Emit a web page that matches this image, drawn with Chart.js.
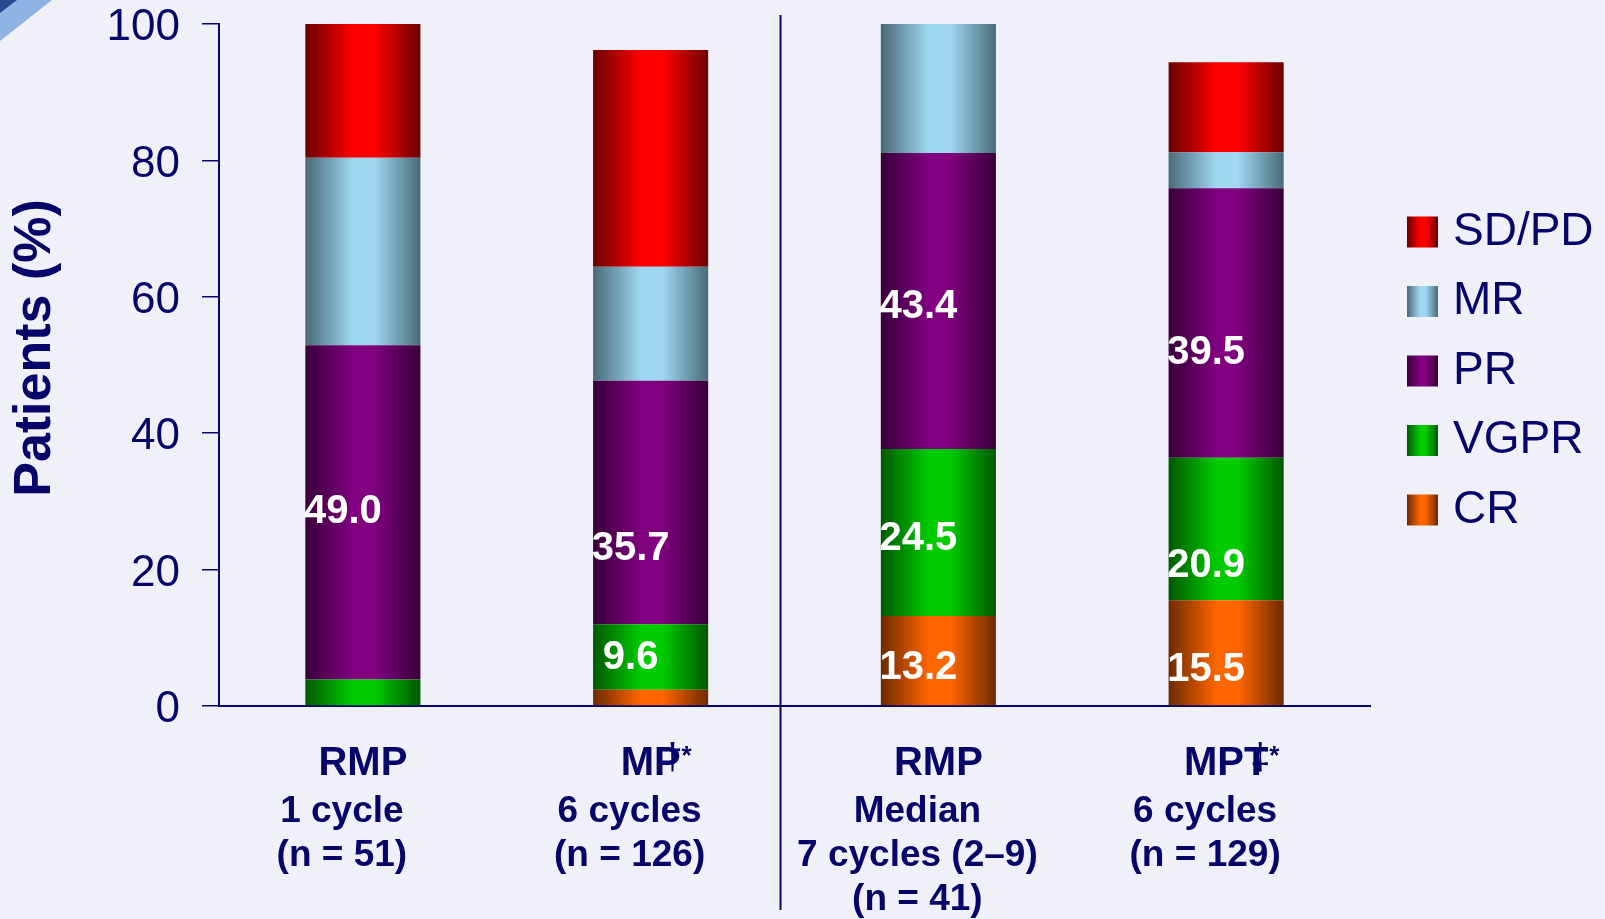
<!DOCTYPE html>
<html>
<head>
<meta charset="utf-8">
<title>Response by regimen</title>
<script src="https://cdn.jsdelivr.net/npm/chart.js@4.4.1/dist/chart.umd.min.js"></script>
<style>
  html, body { margin: 0; padding: 0; background: #f0f1f8; }
  #wrap { width: 1605px; height: 919px; position: relative; }
</style>
</head>
<body>
<div id="wrap"><canvas id="chart" width="1605" height="919"></canvas></div>
<script>
// ---- data ----
const categories = [
  ['RMP', '1 cycle', '(n = 51)'],
  ['MP', '6 cycles', '(n = 126)'],
  ['RMP', 'Median', '7 cycles (2–9)', '(n = 41)'],
  ['MPT', '6 cycles', '(n = 129)']
];
const nameMarks = ['', '†', '', '‡'];
const nameStars = ['', '*', '', '*'];

const responseNames = ['CR', 'VGPR', 'PR', 'MR', 'SD/PD'];
const crValues   = [0,    2.4,  13.2, 15.5];
const vgprValues = [3.9,  9.6,  24.5, 20.9];
const prValues   = [49.0, 35.7, 43.4, 39.5];
const mrValues   = [27.5, 16.7, 18.9, 5.3];
const sdpdValues = [19.6, 31.8, 0,    13.2];
const yTickValues = [0, 20, 40, 60, 80, 100];

// ---- styling ----
const NAVY = '#06066a';
const FONT = '"Liberation Sans", Arial, Helvetica, sans-serif';
const BAR_PCT = 0.4;

const palettes = [
  { dark: '#6e2a00', bright: '#ff6600' },   // CR
  { dark: '#005800', bright: '#00cc00' },   // VGPR
  { dark: '#38003a', bright: '#800080' },   // PR
  { dark: '#4a6a78', bright: '#a0d8f2' },   // MR
  { dark: '#6a0000', bright: '#ff0000' }    // SD/PD
];

// where each printed value sits inside its segment (0 = bottom, 1 = top); null = no label
const labelAnchor = [
  [null, null, 0.42, 0.34],   // CR
  [null, 0.48, 0.46, 0.24],   // VGPR
  [0.50, 0.31, 0.48, 0.39]    // PR
];

const series = [crValues, vgprValues, prValues, mrValues, sdpdValues];

function tubeGradient(ctx, x0, x1, pal) {
  const g = ctx.createLinearGradient(x0, 0, x1, 0);
  g.addColorStop(0, pal.dark);
  g.addColorStop(0.42, pal.bright);
  g.addColorStop(0.6, pal.bright);
  g.addColorStop(1, pal.dark);
  return g;
}

function barFill(pal) {
  return (c) => {
    const chart = c.chart;
    const xs = chart.scales && chart.scales.x;
    if (!xs || c.dataIndex === undefined || !chart.chartArea) return pal.bright;
    const cx = xs.getPixelForValue(c.dataIndex);
    const w = (xs.getPixelForValue(1) - xs.getPixelForValue(0)) * BAR_PCT;
    return tubeGradient(chart.ctx, cx - w / 2, cx + w / 2, pal);
  };
}

// ---- plugins ----
const backdrop = {
  id: 'backdrop',
  beforeDraw(chart) {
    const ctx = chart.ctx;
    ctx.save();
    ctx.fillStyle = '#f0f1f8';
    ctx.fillRect(0, 0, chart.width, chart.height);
    // corner ribbon
    ctx.fillStyle = '#8fb4e3';
    ctx.beginPath(); ctx.moveTo(0, 0); ctx.lineTo(52, 0); ctx.lineTo(0, 41); ctx.closePath(); ctx.fill();
    ctx.fillStyle = '#28498f';
    ctx.beginPath(); ctx.moveTo(0, 0); ctx.lineTo(17, 0); ctx.lineTo(0, 13); ctx.closePath(); ctx.fill();
    ctx.restore();
  }
};

const valueLabels = {
  id: 'valueLabels',
  afterDatasetsDraw(chart) {
    const ctx = chart.ctx, xs = chart.scales.x, ys = chart.scales.y;
    ctx.save();
    ctx.font = 'bold 40px ' + FONT;
    ctx.fillStyle = '#ffffff';
    ctx.textAlign = 'center';
    ctx.textBaseline = 'middle';
    labelAnchor.forEach((row, k) => {
      row.forEach((a, i) => {
        if (a === null) return;
        let base = 0;
        for (let j = 0; j < k; j++) base += series[j][i];
        const v = series[k][i];
        const y = ys.getPixelForValue(base + v * a);
        const x = xs.getPixelForValue(i) - 20;
        ctx.fillText(v.toFixed(1), x, y);
      });
    });
    ctx.restore();
  }
};

const decorations = {
  id: 'decorations',
  afterDraw(chart) {
    const ctx = chart.ctx, xs = chart.scales.x, area = chart.chartArea;
    ctx.save();

    // divider between the two trials
    const dx = Math.round(xs.getPixelForValue(1.45)) + 0.5;
    ctx.strokeStyle = NAVY;
    ctx.lineWidth = 2;
    ctx.beginPath();
    ctx.moveTo(dx, area.top - 9);
    ctx.lineTo(dx, chart.height - 9);
    ctx.stroke();

    // regimen names above the category details
    ctx.fillStyle = NAVY;
    categories.forEach((lines, i) => {
      const cx = xs.getPixelForValue(i);
      const y = area.bottom + 58;
      ctx.font = 'bold 40px ' + FONT;
      ctx.textAlign = 'center';
      ctx.textBaseline = 'middle';
      ctx.fillText(lines[0], cx, y);
      if (nameMarks[i]) {
        const right = cx + ctx.measureText(lines[0]).width / 2;
        ctx.textBaseline = 'alphabetic';
        ctx.font = '36px ' + FONT;
        ctx.fillText(nameMarks[i], right - 8, area.bottom + 63);
        ctx.font = 'bold 26px ' + FONT;
        ctx.fillText(nameStars[i], right + 6, area.bottom + 58);
      }
    });

    // y-axis title
    ctx.save();
    ctx.translate(36, (area.top + area.bottom) / 2 - 17);
    ctx.rotate(-Math.PI / 2);
    ctx.font = 'bold 52px ' + FONT;
    ctx.textAlign = 'center';
    ctx.textBaseline = 'middle';
    ctx.fillText('Patients (%)', 0, 0);
    ctx.restore();

    // legend, top entry = top segment
    const lx = area.right + 37;
    const midY = (area.top + area.bottom) / 2 + 6;
    for (let r = 0; r < responseNames.length; r++) {
      const k = responseNames.length - 1 - r;
      const cy = midY + (r - 2) * 69.5;
      ctx.fillStyle = tubeGradient(ctx, lx, lx + 31, palettes[k]);
      ctx.fillRect(lx, cy - 15.5, 31, 31);
      ctx.fillStyle = NAVY;
      ctx.font = '46px ' + FONT;
      ctx.textAlign = 'left';
      ctx.textBaseline = 'middle';
      ctx.fillText(responseNames[k], lx + 46, cy);
    }
    ctx.restore();
  }
};

// ---- chart ----
new Chart(document.getElementById('chart'), {
  type: 'bar',
  data: {
    labels: categories,
    datasets: responseNames.map((name, k) => ({
      label: name,
      data: series[k],
      backgroundColor: barFill(palettes[k]),
      borderWidth: 0,
      barPercentage: BAR_PCT,
      categoryPercentage: 1
    }))
  },
  options: {
    responsive: false,
    animation: false,
    devicePixelRatio: 1,
    layout: { padding: { top: 24, right: 235, left: 0, bottom: 0 } },
    plugins: {
      legend: { display: false },
      tooltip: { enabled: false },
      title: { display: false }
    },
    scales: {
      x: {
        stacked: true,
        grid: { display: false, drawTicks: false },
        border: { display: true, color: NAVY, width: 2 },
        ticks: {
          color: NAVY,
          font: { family: FONT, size: 37, weight: 'bold', lineHeight: 44 / 37 },
          padding: 84,
          labelOffset: -21,
          maxRotation: 0,
          autoSkip: false,
          callback: (v, i) => categories[i].slice(1)
        },
        afterFit: (s) => { s.height = 213; }
      },
      y: {
        stacked: true,
        min: 0,
        max: 100,
        grid: { display: true, drawOnChartArea: false, drawTicks: true, tickLength: 17, color: NAVY, lineWidth: 1.5 },
        border: { display: true, color: NAVY, width: 2 },
        ticks: { color: NAVY, font: { family: FONT, size: 44 }, padding: 22, labelOffset: 4 },
        afterBuildTicks: (s) => { s.ticks = yTickValues.map(v => ({ value: v })); },
        afterFit: (s) => { s.width = 219; s.paddingTop = 0; s.paddingBottom = 0; }
      }
    }
  },
  plugins: [backdrop, valueLabels, decorations]
});
</script>
</body>
</html>
